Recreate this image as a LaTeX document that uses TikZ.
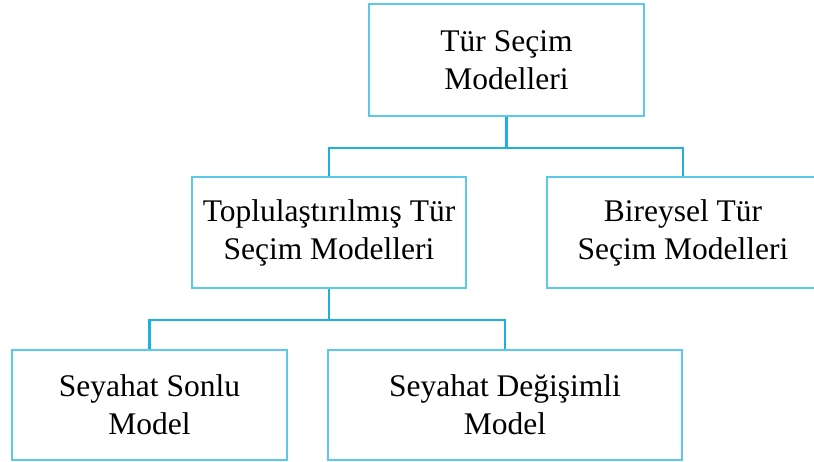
\documentclass[tikz,border=0pt]{standalone}
\usepackage{fontspec}
\setmainfont{Liberation Serif}
\usetikzlibrary{positioning}
\definecolor{boxblue}{HTML}{5CC8EA}
\definecolor{lineblue}{HTML}{1DB2DB}

\begin{document}
\begin{tikzpicture}[x=1pt,y=-1pt,
    box/.style={draw=boxblue,line width=1.8pt,align=center,inner sep=0pt,
        font=\fontsize{31.5}{38}\selectfont},
    conn/.style={draw=lineblue,line width=2.8pt}]
    \useasboundingbox (0,0) rectangle (814,461);
    \clip (0,0) rectangle (814,461);
    % boxes
    \node[box,minimum width=275pt,minimum height=112pt] (top) at (506.5,60)
        {Tür Seçim\\Modelleri};
    \node[box,minimum width=274pt,minimum height=111pt] (midL) at (329,232.5)
        {Toplulaştırılmış Tür\\Seçim Modelleri};
    \node[box,minimum width=272pt,minimum height=111pt] (midR) at (683,232.5)
        {Bireysel Tür\\Seçim Modelleri};
    \node[box,minimum width=275pt,minimum height=110pt] (botL) at (149.5,405)
        {Seyahat Sonlu\\Model};
    \node[box,minimum width=354pt,minimum height=110pt] (botR) at (505,405)
        {Seyahat Değişimli\\Model};
    % connectors
    \draw[conn] (top.south) -- ++(0,31) coordinate (j1);
    \draw[conn] (j1) -| (midL.north);
    \draw[conn] (j1) -| (midR.north);
    \draw[conn] (midL.south) -- ++(0,31) coordinate (j2);
    \draw[conn] (j2) -| (botL.north);
    \draw[conn] (j2) -| (botR.north);
\end{tikzpicture}
\end{document}
